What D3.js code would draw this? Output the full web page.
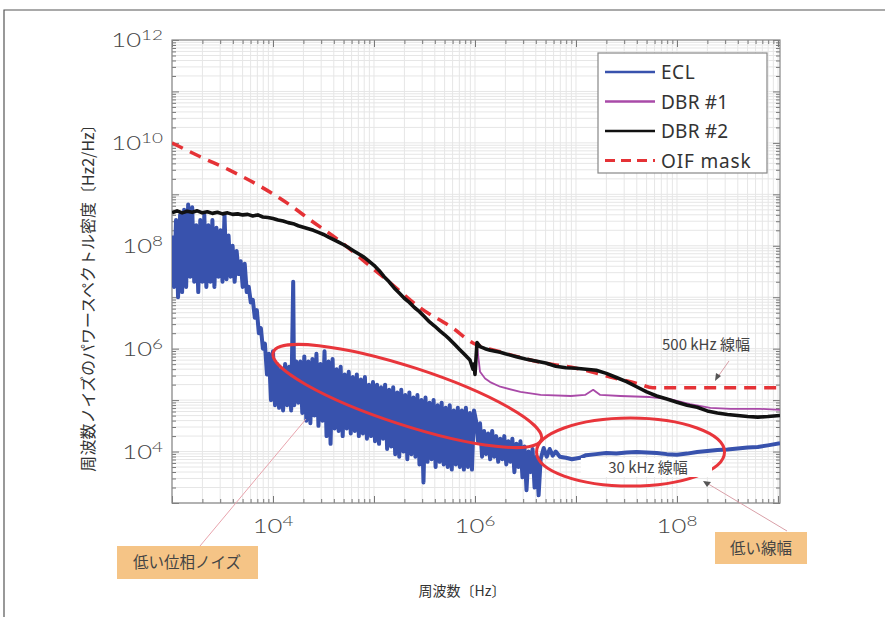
<!DOCTYPE html>
<html><head><meta charset="utf-8">
<script src="https://cdn.jsdelivr.net/npm/d3@7"></script>
<style>body{margin:0;background:#fff}svg{display:block}</style>
</head><body><svg id="c" width="885" height="617"></svg>
<script>
// ---------- data (log10 frequency [Hz], log10 PSD [Hz^2/Hz]) ----------
const seriesNames = ["ECL", "DBR #1", "DBR #2", "OIF mask"];
const seriesColors = ["#3852ad", "#a94aa8", "#111111", "#e53236"];

const eclData = [
[3.00,8.2],[3.02,7.2],[3.04,8.5],[3.06,7.0],[3.08,8.6],[3.10,7.1],[3.12,8.7],[3.14,7.2],[3.16,8.8],[3.18,7.4],
[3.20,8.75],[3.22,7.3],[3.24,8.4],[3.26,7.1],[3.28,8.5],[3.30,7.3],[3.32,8.6],[3.34,7.2],[3.36,8.4],[3.38,7.3],
[3.40,8.5],[3.42,7.2],[3.44,8.35],[3.46,7.4],[3.48,8.3],[3.50,7.3],[3.52,8.6],[3.54,7.35],[3.56,8.2],[3.58,7.4],
[3.60,8.0],[3.62,7.3],[3.64,7.9],[3.66,7.45],[3.68,7.7],[3.70,7.2],[3.72,7.65],[3.74,7.1],
[3.76,7.2],[3.78,6.9],[3.80,6.95],[3.82,6.6],[3.84,6.75],[3.86,6.3],[3.88,6.4],[3.90,6.0],[3.92,6.1],[3.94,5.5],
[3.96,5.9],[3.98,5.0],[4.00,5.95],[4.02,4.9],[4.04,5.7],[4.06,4.85],[4.08,5.6],[4.10,4.8],[4.12,5.7],[4.14,4.9],
[4.16,5.65],[4.18,4.8],[4.20,7.3],[4.21,4.9],[4.23,5.75],[4.25,4.95],
[4.27,5.75],[4.29,4.75],[4.31,5.85],[4.33,4.6],[4.35,5.75],[4.37,4.55],[4.39,5.8],[4.41,4.7],[4.43,5.9],[4.45,4.5],
[4.47,5.7],[4.49,4.6],[4.51,5.95],[4.53,4.3],[4.55,5.75],[4.57,4.15],[4.59,5.8],[4.61,4.45],[4.63,5.6],[4.65,4.4],
[4.67,5.65],[4.69,4.3],[4.71,5.5],[4.73,4.45],[4.75,5.55],[4.77,4.35],[4.79,5.45],[4.81,4.4],[4.83,5.5],[4.85,4.3],
[4.87,5.4],[4.89,4.35],[4.91,5.45],[4.93,4.25],[4.95,5.3],[4.97,4.3],[4.99,5.35],[5.01,4.2],[5.03,5.3],[5.05,4.15],
[5.07,5.25],[5.09,4.25],[5.11,5.3],[5.13,4.05],[5.15,5.2],[5.17,4.1],[5.19,5.25],[5.21,3.95],[5.23,5.15],[5.25,3.9],
[5.27,5.2],[5.29,4.0],[5.31,5.1],[5.33,3.85],[5.35,5.15],[5.37,3.95],[5.39,5.05],[5.41,3.9],[5.43,5.1],[5.45,3.75],
[5.47,5.0],[5.49,3.4],[5.51,5.05],[5.53,3.8],[5.55,4.95],[5.57,3.85],[5.59,5.0],[5.61,3.7],[5.63,4.9],[5.65,3.8],
[5.67,4.95],[5.69,3.75],[5.71,4.85],[5.73,3.7],[5.75,4.9],[5.77,3.65],[5.79,4.8],[5.81,3.75],[5.83,4.85],[5.85,3.7],
[5.87,4.8],[5.89,3.65],[5.91,4.85],[5.93,3.7],[5.95,4.75],[5.97,3.65],[5.99,4.8],
[6.01,4.6],[6.03,4.2],[6.05,4.55],[6.07,3.9],[6.09,4.4],[6.11,3.95],[6.13,4.35],[6.15,3.85],[6.17,4.4],[6.19,3.9],
[6.21,4.3],[6.23,3.8],[6.25,4.25],[6.27,3.85],[6.29,4.3],[6.31,3.75],[6.33,4.2],[6.35,3.8],[6.37,4.25],[6.39,3.6],
[6.41,4.15],[6.43,3.7],[6.45,4.2],[6.47,3.5],[6.49,4.1],[6.51,3.25],[6.53,4.0],[6.55,3.6],[6.57,4.05],[6.59,3.3],
[6.61,3.9],[6.63,3.15],[6.65,3.85],
[6.68,4.07],[6.71,3.9],[6.74,4.05],[6.77,3.92],[6.80,4.0],[6.84,3.9],[6.90,3.88],[6.96,3.85],[7.04,3.88],[7.10,3.93],
[7.20,3.95],[7.30,3.97],[7.40,3.96],[7.50,3.98],[7.60,3.99],[7.70,3.98],[7.80,3.97],[7.90,3.95],[8.00,3.94],[8.10,3.96],
[8.20,3.99],[8.30,4.01],[8.40,4.03],[8.50,4.04],[8.60,4.06],[8.70,4.08],[8.80,4.09],[8.90,4.12],[9.02,4.16]
];

const dbr2Data = [
[3.00,8.64],[3.05,8.68],[3.10,8.64],[3.15,8.67],[3.20,8.65],[3.25,8.68],[3.30,8.64],[3.35,8.66],[3.40,8.63],[3.45,8.65],
[3.50,8.62],[3.55,8.64],[3.60,8.61],[3.65,8.62],[3.70,8.60],[3.75,8.61],[3.80,8.58],[3.85,8.60],[3.90,8.56],[3.95,8.55],
[4.00,8.53],[4.05,8.50],[4.10,8.48],[4.15,8.45],[4.20,8.43],[4.25,8.39],[4.30,8.36],[4.35,8.33],[4.40,8.30],[4.45,8.26],
[4.50,8.22],[4.55,8.17],[4.60,8.12],[4.65,8.07],[4.70,8.02],[4.75,7.96],[4.80,7.90],[4.85,7.84],[4.90,7.78],[4.95,7.70],
[5.00,7.62],[5.05,7.52],[5.10,7.40],[5.15,7.30],[5.20,7.18],[5.25,7.08],[5.30,6.98],[5.35,6.90],[5.40,6.80],[5.45,6.72],
[5.50,6.62],[5.55,6.52],[5.60,6.44],[5.65,6.35],[5.70,6.27],[5.75,6.18],[5.80,6.08],[5.85,5.98],[5.90,5.88],[5.95,5.78],
[5.98,5.60],[5.99,5.70],[6.00,5.50],[6.02,6.12],[6.05,6.04],[6.10,6.00],[6.15,5.97],[6.20,5.95],[6.25,5.93],[6.30,5.90],
[6.40,5.85],[6.50,5.80],[6.60,5.76],[6.70,5.72],[6.80,5.66],[6.90,5.63],[7.00,5.62],[7.10,5.60],[7.20,5.58],[7.30,5.52],
[7.40,5.44],[7.50,5.36],[7.60,5.26],[7.70,5.16],[7.80,5.08],[7.90,5.02],[8.00,4.96],[8.10,4.90],[8.20,4.86],[8.30,4.79],
[8.40,4.75],[8.50,4.72],[8.60,4.70],[8.70,4.68],[8.80,4.67],[8.90,4.68],[9.02,4.70]
];

const dbr1Data = [
[5.90,5.88],[5.95,5.78],[6.00,5.55],[6.02,6.07],[6.05,5.55],[6.10,5.42],[6.15,5.35],[6.25,5.26],[6.45,5.16],[6.65,5.10],
[6.95,5.08],[7.09,5.10],[7.17,5.20],[7.24,5.10],[7.44,5.08],[7.73,5.06],[7.93,5.02],[8.13,4.92],[8.33,4.85],[8.53,4.83],
[8.82,4.83],[9.02,4.81]
];

const oifData = [
[3.00,10.0],[3.28,9.73],[3.57,9.47],[3.87,9.16],[4.17,8.79],[4.37,8.50],[4.69,8.05],[4.89,7.72],[5.16,7.28],[5.46,6.79],
[5.78,6.40],[5.98,6.11],[6.25,5.94],[6.64,5.74],[7.00,5.62],[7.34,5.45],[7.63,5.31],[7.76,5.24],[9.02,5.24]
];

const xTickExps = [4, 6, 8];
const yTickExps = [4, 6, 8, 10, 12];

// ---------- setup ----------
const svg = d3.select("#c");
const L = 172, R = 780, T = 40, B = 503;
const x = d3.scaleLog().domain([1e3, Math.pow(10, 9.02)]).range([L, R]);
const y = d3.scaleLog().domain([1e3, 1e12]).range([B, T]);

svg.append("rect").attr("width", 885).attr("height", 617).attr("fill", "#fff");
svg.append("path").attr("d", "M4,617 V10 H885").attr("fill", "none").attr("stroke", "#555").attr("stroke-width", 1.2);

// grid
const g = svg.append("g");
const xMinor = [], yMinor = [];
for (let d = 3; d <= 9; d++) for (let k = 1; k <= 9; k++) { const v = k * Math.pow(10, d); if (v <= x.domain()[1]) xMinor.push(v); }
for (let d = 3; d <= 12; d++) for (let k = 1; k <= 9; k++) { const v = k * Math.pow(10, d); if (v <= 1e12) yMinor.push(v); }
g.selectAll(".gx").data(xMinor).join("line").attr("x1", d => x(d)).attr("x2", d => x(d)).attr("y1", T).attr("y2", B)
  .attr("stroke", "#e6e6e6").attr("stroke-width", 1);
g.selectAll(".gy").data(yMinor).join("line").attr("y1", d => y(d)).attr("y2", d => y(d)).attr("x1", L).attr("x2", R)
  .attr("stroke", "#e6e6e6").attr("stroke-width", 1);

// axes ticks (inward)
const isMajor = v => Math.abs(Math.log10(v) - Math.round(Math.log10(v))) < 1e-9;
const tickStyle = sel => { sel.select(".domain").remove(); sel.selectAll("line").attr("stroke", "#777"); sel.selectAll("text").remove(); };
svg.append("g").attr("transform", `translate(0,${B})`).call(d3.axisBottom(x).tickValues(xMinor).tickSize(-4)).call(tickStyle)
  .selectAll("line").attr("y2", d => isMajor(d) ? -7 : -4);
svg.append("g").attr("transform", `translate(0,${T})`).call(d3.axisTop(x).tickValues(xMinor).tickSize(-4)).call(tickStyle)
  .selectAll("line").attr("y2", d => isMajor(d) ? 7 : 4);
svg.append("g").attr("transform", `translate(${L},0)`).call(d3.axisLeft(y).tickValues(yMinor).tickSize(-4)).call(tickStyle)
  .selectAll("line").attr("x2", d => isMajor(d) ? 7 : 4);
svg.append("g").attr("transform", `translate(${R},0)`).call(d3.axisRight(y).tickValues(yMinor).tickSize(-4)).call(tickStyle)
  .selectAll("line").attr("x2", d => isMajor(d) ? -7 : -4);
svg.append("rect").attr("x", L).attr("y", T).attr("width", R - L).attr("height", B - T)
  .attr("fill", "none").attr("stroke", "#888").attr("stroke-width", 1.2);

// tick labels (horizontally widened light digits)
const labFont = "Lato, 'Open Sans', sans-serif";
const sx = 1.35;
xTickExps.forEach(e => {
  const t = svg.append("text").attr("transform", `translate(${x(Math.pow(10, e))},533) scale(${sx},1)`).attr("text-anchor", "middle")
    .attr("font-family", labFont).attr("font-weight", 300).attr("fill", "#444").attr("font-size", 19);
  t.append("tspan").text("10");
  t.append("tspan").attr("dy", -7).attr("font-size", 14).text(e);
});
yTickExps.forEach(e => {
  const t = svg.append("text").attr("transform", `translate(163,${y(Math.pow(10, e)) + 7}) scale(${sx},1)`).attr("text-anchor", "end")
    .attr("font-family", labFont).attr("font-weight", 300).attr("fill", "#444").attr("font-size", 19);
  t.append("tspan").text("10");
  t.append("tspan").attr("dy", -7).attr("font-size", 14).text(e);
});

// axis titles
const jp = "'Noto Sans CJK JP', sans-serif";
svg.append("text").attr("transform", "translate(94,294) rotate(-90)").attr("text-anchor", "middle")
  .attr("font-family", jp).attr("font-size", 16).attr("fill", "#333").text("周波数ノイズのパワースペクトル密度〔Hz2/Hz〕");
svg.append("text").attr("x", 462).attr("y", 596).attr("text-anchor", "middle")
  .attr("font-family", jp).attr("font-size", 14).attr("fill", "#333").text("周波数〔Hz〕");

// ---------- series ----------
svg.append("clipPath").attr("id", "clip").append("rect").attr("x", L).attr("y", T).attr("width", R - L).attr("height", B - T);
const plot = svg.append("g").attr("clip-path", "url(#clip)");
const line = d3.line().x(d => x(Math.pow(10, d[0]))).y(d => y(Math.pow(10, d[1])));

plot.append("path").datum(eclData).attr("d", line).attr("fill", "none").attr("stroke", seriesColors[0])
  .attr("stroke-width", 4).attr("stroke-linejoin", "round");
plot.append("path").datum(dbr1Data).attr("d", line).attr("fill", "none").attr("stroke", seriesColors[1])
  .attr("stroke-width", 1.8).attr("stroke-linejoin", "round");
plot.append("path").datum(oifData).attr("d", d3.line().x(d => x(Math.pow(10, d[0]))).y(d => y(Math.pow(10, d[1]))).curve(d3.curveMonotoneX))
  .attr("fill", "none").attr("stroke", seriesColors[3]).attr("stroke-width", 3.5).attr("stroke-dasharray", "12,8");
plot.append("path").datum(dbr2Data).attr("d", line).attr("fill", "none").attr("stroke", seriesColors[2])
  .attr("stroke-width", 3.6).attr("stroke-linejoin", "round");

// ---------- annotations ----------
const red = "#e8353b";
const e1c = [x(Math.pow(10, 5.33)), y(Math.pow(10, 5.08))];
svg.append("ellipse").attr("cx", e1c[0]).attr("cy", e1c[1]).attr("rx", 141).attr("ry", 29)
  .attr("transform", `rotate(18,${e1c[0]},${e1c[1]})`).attr("fill", "none").attr("stroke", red).attr("stroke-width", 3);
const e2c = [x(Math.pow(10, 7.54)), y(Math.pow(10, 3.99))];
svg.append("ellipse").attr("cx", e2c[0]).attr("cy", e2c[1]).attr("rx", 94).attr("ry", 34)
  .attr("fill", "none").attr("stroke", red).attr("stroke-width", 3);

// pointer lines
svg.append("line").attr("x1", 200).attr("y1", 546).attr("x2", 306).attr("y2", 419).attr("stroke", "#e8a4ad").attr("stroke-width", 1);
svg.append("line").attr("x1", 787).attr("y1", 531).attr("x2", 705).attr("y2", 482).attr("stroke", "#d9a0a8").attr("stroke-width", 1);
svg.append("path").attr("d", "M703,481 L711,482 L707,487 Z").attr("fill", "#555");
svg.append("line").attr("x1", 729).attr("y1", 361).attr("x2", 717).attr("y2", 378).attr("stroke", "#d9a0a8").attr("stroke-width", 1);
svg.append("path").attr("d", "M715,381 L716,373 L721,376 Z").attr("fill", "#555");

// labels
svg.append("text").attr("x", 706).attr("y", 350).attr("text-anchor", "middle").attr("font-family", jp)
  .attr("font-size", 15).attr("fill", "#444").text("500 kHz 線幅");
svg.append("rect").attr("x", 581).attr("y", 458).attr("width", 131).attr("height", 19).attr("fill", "#fff");
svg.append("text").attr("x", 648).attr("y", 473).attr("text-anchor", "middle").attr("font-family", jp)
  .attr("font-size", 15).attr("fill", "#444").text("30 kHz 線幅");

svg.append("rect").attr("x", 117).attr("y", 546).attr("width", 141).attr("height", 33).attr("fill", "#f5c486");
svg.append("text").attr("x", 187).attr("y", 568).attr("text-anchor", "middle").attr("font-family", jp)
  .attr("font-size", 15.5).attr("fill", "#444").text("低い位相ノイズ");
svg.append("rect").attr("x", 715).attr("y", 532).attr("width", 92).attr("height", 32).attr("fill", "#f5c486");
svg.append("text").attr("x", 761).attr("y", 554).attr("text-anchor", "middle").attr("font-family", jp)
  .attr("font-size", 15.5).attr("fill", "#444").text("低い線幅");

// ---------- legend ----------
const lg = svg.append("g");
lg.append("rect").attr("x", 598).attr("y", 53).attr("width", 169).attr("height", 120).attr("fill", "#fff")
  .attr("stroke", "#888").attr("stroke-width", 1.2);
seriesNames.forEach((n, i) => {
  const yy = 72 + i * 29.5;
  lg.append("line").attr("x1", 605).attr("x2", 655).attr("y1", yy).attr("y2", yy).attr("stroke", seriesColors[i])
    .attr("stroke-width", i === 3 ? 3 : 2.5).attr("stroke-dasharray", i === 3 ? "10,6" : null);
  lg.append("text").attr("x", 661).attr("y", yy + 7).attr("font-family", "'Noto Sans', sans-serif")
    .attr("font-size", 19).attr("fill", "#333").attr("textLength", n.length * 11.2).text(n);
});
</script></body></html>
